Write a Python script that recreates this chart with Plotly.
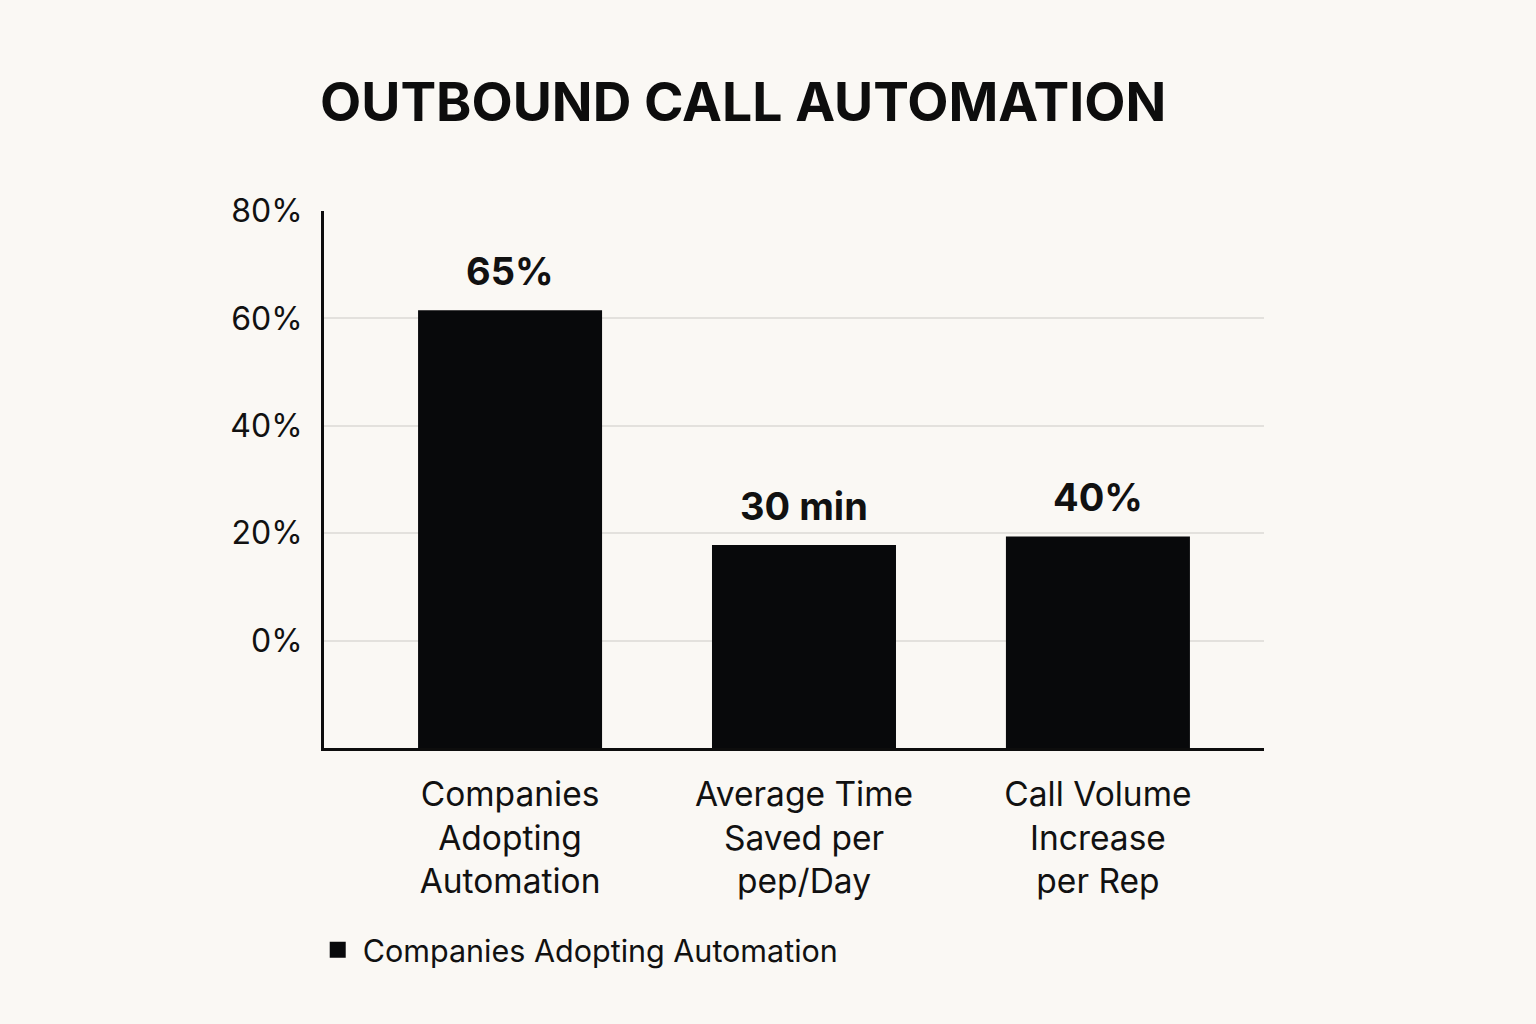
import plotly.graph_objects as go

categories = ["Companies<br>Adopting<br>Automation", "Average Time<br>Saved per<br>pep/Day", "Call Volume<br>Increase<br>per Rep"]
bar_values = [61.5, 17.8, 19.4]
bar_labels = ["65%", "30 min", "40%"]
y_ticks = [0, 20, 40, 60, 80]
y_tick_labels = ["0%", "20%", "40%", "60%", "80%"]
series_name = "Companies Adopting Automation"
axis_floor = -20

positions = list(range(len(categories)))

fig = go.Figure()
fig.add_trace(go.Bar(
    x=positions,
    y=[v - axis_floor for v in bar_values],
    base=axis_floor,
    width=0.626,
    name=series_name,
    marker=dict(color="#08090b", line=dict(width=0)),
    cliponaxis=False,
    showlegend=False,
    hoverinfo="skip",
))
# legend entry only, with a bigger square swatch
fig.add_trace(go.Scatter(
    x=[None], y=[None], mode="markers", name=series_name,
    marker=dict(symbol="square", size=26, color="#08090b"),
    showlegend=True,
))

# value labels above bars
for p, v, lab in zip(positions, bar_values, bar_labels):
    fig.add_annotation(x=p, y=v, text=f"<b>{lab}</b>", showarrow=False,
                       xanchor="center", yanchor="bottom", yshift=14,
                       font=dict(size=38, color="#111111", family="Inter"))

fig.update_layout(
    width=1536, height=1024,
    paper_bgcolor="#faf8f4", plot_bgcolor="#faf8f4",
    margin=dict(l=324, r=272, t=211, b=276),
    font=dict(family="Inter", color="#111111"),
    title=dict(text="<b>OUTBOUND CALL AUTOMATION</b>", x=320 / 1536, xanchor="left",
               y=0.9, yref="container", yanchor="middle",
               font=dict(size=53.5, color="#0d0d0d", family="Inter")),
    showlegend=True,
    legend=dict(x=-0.012, y=-0.376, xanchor="left", yanchor="middle",
                font=dict(size=30.5, color="#111111"), bgcolor="rgba(0,0,0,0)",
                itemsizing="trace", itemwidth=40),
)
fig.update_xaxes(
    range=[-0.633, 2.565], tickvals=positions, ticktext=categories,
    showgrid=False, zeroline=False, showline=True, linecolor="#0d0d0d", linewidth=3,
    tickfont=dict(size=33.5, color="#111111"), ticks="", ticklabelstandoff=15,
)
fig.update_yaxes(
    range=[-20, 80], tickvals=y_ticks, ticktext=y_tick_labels,
    showgrid=True, gridcolor="#e3e1dd", gridwidth=1.5, zeroline=False,
    showline=True, linecolor="#0d0d0d", linewidth=3,
    tickfont=dict(size=32, color="#111111"), ticks="", ticklabelstandoff=12,
)

fig.write_html("out.html", config={"displayModeBar": False},
               post_script="document.body.style.margin='0';document.body.style.background='#faf8f4';")
